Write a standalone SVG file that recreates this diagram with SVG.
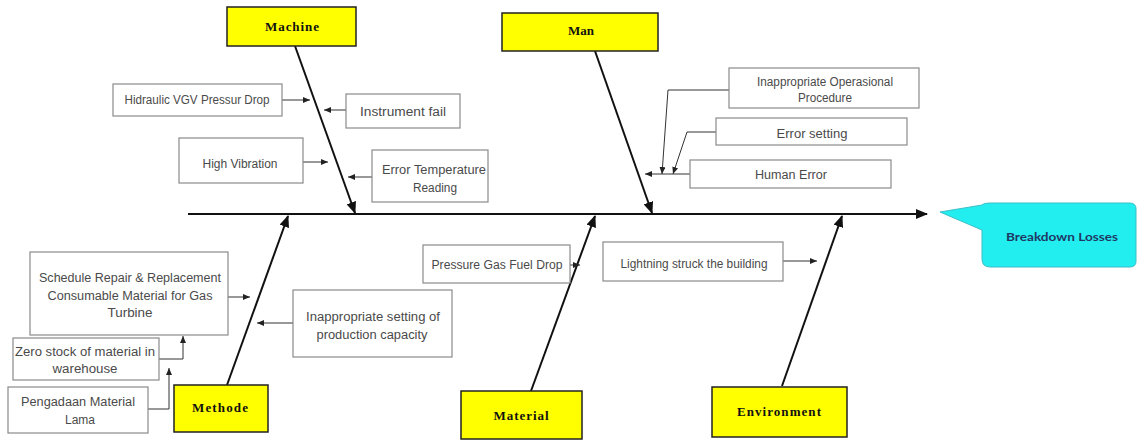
<svg xmlns="http://www.w3.org/2000/svg" width="1138" height="441" viewBox="0 0 1138 441">
<style>
.cat rect{fill:#ffff00;stroke:#222;stroke-width:1.5}
.cat text{font-family:"Liberation Serif",serif;font-weight:bold;font-size:13px;fill:#111;text-anchor:middle}
.cause rect{fill:#fff;stroke:#8a8a8a;stroke-width:1.2}
.cause text{font-family:"Liberation Sans",Arial,sans-serif;font-size:12px;fill:#4a4a4a;text-anchor:middle}
.spine{stroke:#111;stroke-width:2;fill:none}
.sub{stroke:#333;stroke-width:1;fill:none}
</style>
<defs>
<marker id="big" markerUnits="userSpaceOnUse" markerWidth="12" markerHeight="10" refX="11" refY="5" orient="auto"><path d="M0,0 L12,5 L0,10 Z" fill="#111"/></marker>
<marker id="small" markerUnits="userSpaceOnUse" markerWidth="7" markerHeight="6" refX="7" refY="3" orient="auto"><path d="M0,0 L7,3 L0,6 Z" fill="#222"/></marker>
</defs>
<rect width="1138" height="441" fill="#fff"/>
<g id="connectors">
<line class="spine" x1="188" y1="214" x2="927" y2="214" stroke-width="3" marker-end="url(#big)"/>
<line class="spine" x1="295" y1="46" x2="355" y2="213" marker-end="url(#big)"/>
<line class="spine" x1="595" y1="51" x2="652" y2="213" marker-end="url(#big)"/>
<line class="spine" x1="227" y1="385" x2="288" y2="216" marker-end="url(#big)"/>
<line class="spine" x1="531" y1="391" x2="595" y2="216" marker-end="url(#big)"/>
<line class="spine" x1="782" y1="386" x2="842" y2="216" marker-end="url(#big)"/>
<line class="sub" x1="282" y1="100" x2="310" y2="100" marker-end="url(#small)"/>
<line class="sub" x1="346" y1="110" x2="324" y2="110" marker-end="url(#small)"/>
<line class="sub" x1="303" y1="162" x2="328" y2="162" marker-end="url(#small)"/>
<line class="sub" x1="372" y1="177" x2="348" y2="177" marker-end="url(#small)"/>
<polyline class="sub" points="729,90 668,90 662,174" marker-end="url(#small)"/>
<polyline class="sub" points="716,132 687,132 673,174" marker-end="url(#small)"/>
<line class="sub" x1="690" y1="174" x2="645" y2="174" marker-end="url(#small)"/>
<line class="sub" x1="228" y1="297" x2="250" y2="297" marker-end="url(#small)"/>
<line class="sub" x1="293" y1="323" x2="257" y2="323" marker-end="url(#small)"/>
<polyline class="sub" points="159,359 183,359 183,336" marker-end="url(#small)"/>
<polyline class="sub" points="148,409 169,409 169,368" marker-end="url(#small)"/>
<line class="sub" x1="570" y1="265" x2="580" y2="265" marker-end="url(#small)"/>
<line class="sub" x1="783" y1="261" x2="817" y2="261" marker-end="url(#small)"/>
</g>
<g id="machine" class="cat"><rect x="227" y="7" width="129" height="39"/><text x="292" y="31" textLength="54" lengthAdjust="spacing">Machine</text></g>
<g id="man" class="cat"><rect x="502" y="13" width="156" height="38"/><text x="581" y="35">Man</text></g>
<g id="methode" class="cat"><rect x="174" y="385" width="94" height="47"/><text x="220" y="412" textLength="56" lengthAdjust="spacing">Methode</text></g>
<g id="material" class="cat"><rect x="461" y="391" width="121" height="48"/><text x="521" y="420" textLength="55" lengthAdjust="spacing">Material</text></g>
<g id="environment" class="cat"><rect x="712" y="387" width="135" height="50"/><text x="779" y="416" textLength="84" lengthAdjust="spacing">Environment</text></g>
<g id="hidraulic" class="cause"><rect x="113" y="84" width="169" height="32"/><text x="197" y="104" textLength="145" lengthAdjust="spacingAndGlyphs">Hidraulic VGV Pressur Drop</text></g>
<g id="instrument" class="cause"><rect x="346" y="94" width="114" height="34"/><text x="403" y="116" textLength="86" lengthAdjust="spacingAndGlyphs">Instrument fail</text></g>
<g id="vibration" class="cause"><rect x="179" y="138" width="124" height="45"/><text x="240" y="168" textLength="75" lengthAdjust="spacingAndGlyphs">High Vibration</text></g>
<g id="errtemp" class="cause"><rect x="372" y="150" width="116" height="52"/><text x="434" y="174" textLength="104" lengthAdjust="spacingAndGlyphs">Error Temperature</text><text x="435" y="192" textLength="44" lengthAdjust="spacingAndGlyphs">Reading</text></g>
<g id="operasional" class="cause"><rect x="729" y="68" width="190" height="40"/><text x="825" y="86" textLength="136" lengthAdjust="spacingAndGlyphs">Inappropriate Operasional</text><text x="825" y="102" textLength="54" lengthAdjust="spacingAndGlyphs">Procedure</text></g>
<g id="errsetting" class="cause"><rect x="716" y="118" width="191" height="27"/><text x="812" y="138" textLength="71" lengthAdjust="spacingAndGlyphs">Error setting</text></g>
<g id="humanerror" class="cause"><rect x="690" y="160" width="201" height="28"/><text x="791" y="179" textLength="72" lengthAdjust="spacingAndGlyphs">Human Error</text></g>
<g id="schedule" class="cause"><rect x="30" y="252" width="198" height="83"/><text x="130" y="282" textLength="182" lengthAdjust="spacingAndGlyphs">Schedule Repair &amp; Replacement</text><text x="130" y="300" textLength="165" lengthAdjust="spacingAndGlyphs">Consumable Material for Gas</text><text x="130" y="317" textLength="45" lengthAdjust="spacingAndGlyphs">Turbine</text></g>
<g id="zerostock" class="cause"><rect x="13" y="338" width="146" height="42"/><text x="85" y="356" textLength="140" lengthAdjust="spacingAndGlyphs">Zero stock of material in</text><text x="85" y="373" textLength="65" lengthAdjust="spacingAndGlyphs">warehouse</text></g>
<g id="pengadaan" class="cause"><rect x="8" y="387" width="140" height="46"/><text x="78" y="406" textLength="114" lengthAdjust="spacingAndGlyphs">Pengadaan Material</text><text x="80" y="424">Lama</text></g>
<g id="capacity" class="cause"><rect x="293" y="290" width="159" height="67"/><text x="373" y="321" textLength="134" lengthAdjust="spacingAndGlyphs">Inappropriate setting of</text><text x="372" y="339" textLength="111" lengthAdjust="spacingAndGlyphs">production capacity</text></g>
<g id="gasfuel" class="cause"><rect x="423" y="245" width="147" height="38"/><text x="497" y="269" textLength="131" lengthAdjust="spacingAndGlyphs">Pressure Gas Fuel Drop</text></g>
<g id="lightning" class="cause"><rect x="603" y="242" width="180" height="39"/><text x="694" y="268" textLength="147" lengthAdjust="spacingAndGlyphs">Lightning struck the building</text></g>
<g id="breakdown">
<path d="M940,212 L982,205 Q983,203 990,203 L1130,203 Q1136,203 1136,209 L1136,261 Q1136,267 1130,267 L990,267 Q982,267 982,259 L982,230 Z" fill="#22eef0" stroke="#3bbfc8" stroke-width="1"/>
<text x="1062" y="241" font-family="Lato,'Noto Sans',sans-serif" font-weight="bold" font-size="11" fill="#1f3864" text-anchor="middle" textLength="112" lengthAdjust="spacingAndGlyphs">Breakdown Losses</text>
</g>
</svg>
